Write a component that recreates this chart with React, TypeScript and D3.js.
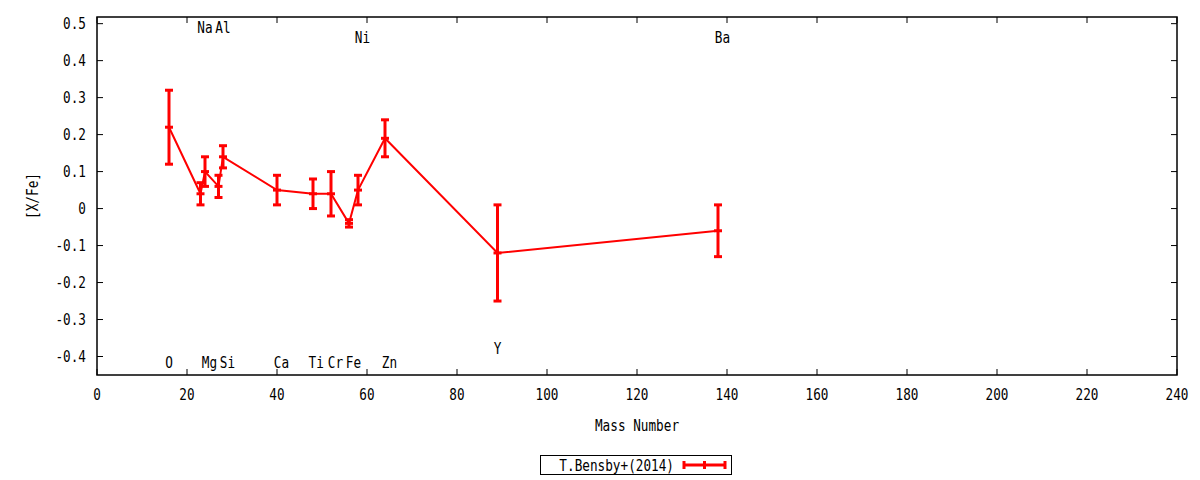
import React, { useEffect, useRef } from "react";
import * as d3 from "d3";

// element, mass number, [X/Fe], error
const elements = ["O", "Na", "Mg", "Al", "Si", "Ca", "Ti", "Cr", "Fe", "Ni", "Zn", "Y", "Ba"];
const massNumbers = [16, 23, 24, 27, 28, 40, 48, 52, 56, 58, 64, 89, 138];
const xFeValues = [0.22, 0.04, 0.1, 0.06, 0.14, 0.05, 0.04, 0.04, -0.04, 0.05, 0.19, -0.12, -0.06];
const xFeErrors = [0.1, 0.03, 0.04, 0.03, 0.03, 0.04, 0.04, 0.06, 0.01, 0.04, 0.05, 0.13, 0.07];

// element name labels (data coords)
const labelX = [16, 24, 25, 28, 29, 41, 48.7, 53, 57, 59, 65, 89, 139];
const labelY = [-0.415, 0.49, -0.415, 0.49, -0.415, -0.415, -0.415, -0.415, -0.415, 0.463, -0.415, -0.378, 0.463];

const xTicks = d3.range(0, 241, 20);
const yTicks = [-0.4, -0.3, -0.2, -0.1, 0, 0.1, 0.2, 0.3, 0.4, 0.5];
const seriesName = "T.Bensby+(2014)";

const W = 1200;
const H = 480;
const margin = { left: 97, right: 23, top: 17, bottom: 105 };
const FONT = "'DejaVu Sans Mono', monospace";
const RED = "#ff0000";
const SX = 0.82; // narrow the mono glyphs like gnuplot's font

export default function App() {
    const svgRef = useRef<SVGSVGElement>(null);

    useEffect(() => {
        if (!svgRef.current) return;
        const svg = d3.select(svgRef.current);
        svg.selectAll("*").remove();

        const x = d3.scaleLinear().domain([0, 240]).range([margin.left, W - margin.right]);
        const y = d3.scaleLinear().domain([-0.45, 0.518]).range([H - margin.bottom, margin.top]);
        const [x0, x1] = x.range();
        const [y0, y1] = y.range();

        const g = svg.append("g").attr("font-family", FONT).attr("font-size", 15.5);

        const txt = (tx: number, ty: number, s: string, anchor = "middle", rot = 0) =>
            g.append("text")
                .attr("transform", `translate(${tx},${ty}) rotate(${rot}) scale(${SX},1)`)
                .attr("dy", "0.36em")
                .attr("text-anchor", anchor)
                .text(s);

        // ticks (inward, mirrored)
        const tk = 6;
        xTicks.forEach(t => {
            g.append("line").attr("x1", x(t)).attr("x2", x(t)).attr("y1", y0).attr("y2", y0 - tk).attr("stroke", "#000");
            g.append("line").attr("x1", x(t)).attr("x2", x(t)).attr("y1", y1).attr("y2", y1 + tk).attr("stroke", "#000");
            txt(x(t), y0 + 19, String(t));
        });
        yTicks.forEach(t => {
            g.append("line").attr("x1", x0).attr("x2", x0 + tk).attr("y1", y(t)).attr("y2", y(t)).attr("stroke", "#000");
            g.append("line").attr("x1", x1).attr("x2", x1 - tk).attr("y1", y(t)).attr("y2", y(t)).attr("stroke", "#000");
            txt(x0 - 11, y(t), String(+t.toFixed(1)), "end");
        });

        g.append("rect").attr("x", x0).attr("y", y1).attr("width", x1 - x0).attr("height", y0 - y1)
            .attr("fill", "none").attr("stroke", "#000").attr("stroke-width", 1.5);

        // axis titles
        txt((x0 + x1) / 2, 425, "Mass Number");
        txt(32, (y0 + y1) / 2, "[X/Fe]", "middle", -90);

        // element labels
        elements.forEach((el, i) => {
            txt(x(labelX[i]), y(labelY[i]), el);
        });

        // line
        const line = d3.line<number>().x((_, i) => x(massNumbers[i])).y(d => y(d));
        g.append("path").datum(xFeValues).attr("d", line).attr("fill", "none")
            .attr("stroke", RED).attr("stroke-width", 2);

        // error bars
        const cap = 4;
        xFeValues.forEach((v, i) => {
            const cx = x(massNumbers[i]);
            const top = y(v + xFeErrors[i]);
            const bot = y(v - xFeErrors[i]);
            g.append("line").attr("x1", cx).attr("x2", cx).attr("y1", top).attr("y2", bot)
                .attr("stroke", RED).attr("stroke-width", 3);
            [top, bot, y(v)].forEach(yy => {
                g.append("line").attr("x1", cx - cap).attr("x2", cx + cap).attr("y1", yy).attr("y2", yy)
                    .attr("stroke", RED).attr("stroke-width", 3);
            });
        });

        // legend
        g.append("rect").attr("x", 540.5).attr("y", 455.5).attr("width", 191).attr("height", 19)
            .attr("fill", "none").attr("stroke", "#000");
        txt(674, 465, seriesName, "end");
        g.append("line").attr("x1", 684).attr("x2", 725).attr("y1", 465).attr("y2", 465)
            .attr("stroke", RED).attr("stroke-width", 3);
        [684, 704.5, 725].forEach(lx => {
            g.append("line").attr("x1", lx).attr("x2", lx).attr("y1", 461).attr("y2", 469)
                .attr("stroke", RED).attr("stroke-width", 3);
        });
    }, []);

    return (
        <svg ref={svgRef} width={W} height={H}
             style={{ position: "absolute", left: 0, top: 0, background: "#fff" }} />
    );
}
